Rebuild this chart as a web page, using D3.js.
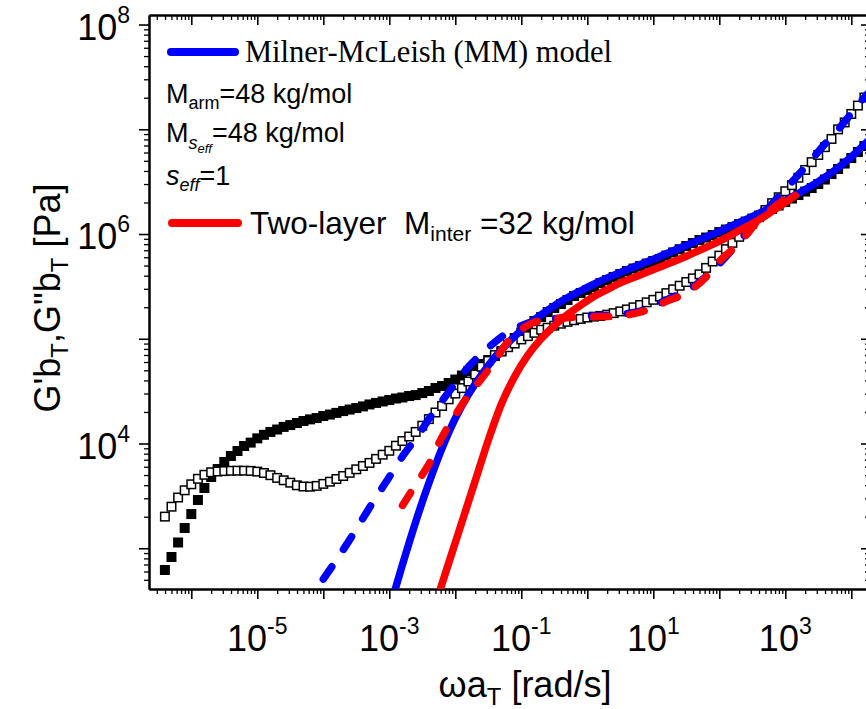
<!DOCTYPE html>
<html>
<head>
<meta charset="utf-8">
<script src="https://d3js.org/d3.v7.min.js"></script>
<style>
  body { margin: 0; background: #fff; }
  svg { display: block; }
  text { font-family: "Liberation Sans", Arial, sans-serif; fill: #000; white-space: pre; }
</style>
</head>
<body>
<div class="canvas"></div>
<script>
// measured data (filled = G', open = G''), same frequencies for both
const omegaData = [
  3.98e-7, 5.01e-7, 6.31e-7, 7.94e-7,
  1e-6, 1.26e-6, 1.58e-6, 2.0e-6, 2.51e-6, 3.16e-6, 3.98e-6, 5.01e-6, 6.31e-6, 7.94e-6,
  1e-5, 1.26e-5, 1.58e-5, 2.0e-5, 2.51e-5, 3.16e-5, 3.98e-5, 5.01e-5, 6.31e-5, 7.94e-5,
  1e-4, 1.26e-4, 1.58e-4, 2.0e-4, 2.51e-4, 3.16e-4, 3.98e-4, 5.01e-4, 6.31e-4, 7.94e-4,
  1e-3, 1.26e-3, 1.58e-3, 2.0e-3, 2.51e-3, 3.16e-3, 3.98e-3, 5.01e-3, 6.31e-3, 7.94e-3,
  0.01, 0.0126, 0.0158, 0.02, 0.0251, 0.0316, 0.0398, 0.0501, 0.0631, 0.0794,
  0.1, 0.126, 0.158, 0.2, 0.251, 0.316, 0.398, 0.501, 0.631, 0.794,
  1, 1.26, 1.58, 2.0, 2.51, 3.16, 3.98, 5.01, 6.31, 7.94,
  10, 12.6, 15.8, 20, 25.1, 31.6, 39.8, 50.1, 63.1, 79.4,
  100, 126, 158, 200, 251, 316, 398, 501, 631, 794,
  1000, 1260, 1580, 2000, 2510, 3160, 3980, 5010, 6310, 7940,
  10000, 12600, 15800
];
const gPrimeData = [
  620, 825, 1135, 1560, 2120, 2890, 3760, 4790, 5710, 6660,
  7600, 8480, 9470, 10200, 11200, 12100, 12900, 13600, 14400, 15000,
  15700, 16400, 17000, 17500, 18300, 18900, 19600, 20400, 21100, 21800,
  22600, 23600, 24400, 25200, 26000, 26900, 27500, 28400, 29000, 30300,
  31700, 33900, 35400, 37800, 40800, 44600, 49200, 53700, 57400, 62700,
  68400, 75500, 87100, 101600, 114700, 129500, 147700, 161300, 180000, 196600,
  214600, 234300, 255900, 273300, 292000, 311800, 340500, 363700, 388500, 415000,
  443300, 468400, 494900, 522800, 552400, 577200, 623200, 668000, 716000, 768000,
  820100, 876000, 925600, 977900, 1.044e6, 1.104e6, 1.166e6, 1.245e6, 1.316e6, 1.405e6,
  1.501e6, 1.621e6, 1.732e6, 1.870e6, 2.020e6, 2.182e6, 2.356e6, 2.544e6, 2.748e6, 3.001e6,
  3.313e6, 3.738e6, 4.173e6, 4.708e6, 5.313e6, 6.062e6, 6.916e6
];
const gDoublePrimeData = [
  2005, 2493, 3051, 3575, 4079, 4603, 5027, 5311, 5405, 5453,
  5489, 5502, 5502, 5478, 5393, 5229, 4983, 4695, 4454, 4225,
  3990, 3886, 3869, 3938, 4116, 4319, 4583, 4895, 5253, 5671,
  6098, 6528, 7129, 7819, 8518, 9528, 10560, 11660, 12900, 14790,
  17100, 19770, 22850, 26420, 29950, 33800, 39070, 45650, 54100, 61440,
  69810, 76210, 83040, 90070, 98560, 105960, 113930, 121990, 127470, 133200,
  139180, 145100, 150310, 154660, 159500, 162660, 165190, 169960, 175680, 182380,
  190580, 199560, 209990, 222770, 235340, 252550, 272760, 296430, 320850, 347990,
  377470, 412290, 474600, 546300, 621900, 717400, 823700, 940000, 1.084e6, 1.254e6,
  1.449e6, 1.694e6, 1.971e6, 2.244e6, 2.561e6, 2.929e6, 3.446e6, 4.091e6, 4.856e6, 5.686e6,
  6.751e6, 8.084e6, 9.98e6, 1.162e7, 1.401e7, 1.684e7, 2.009e7
];

// Milner-McLeish model
const omegaMMp = [1e-3, 1.585e-3, 2.512e-3, 3.981e-3, 6.31e-3, 0.01, 0.01585, 0.02512, 0.03981, 0.0631,
  0.1, 0.1585, 0.2512, 0.3981, 0.631, 1, 1.778, 3.162, 5.623, 10, 17.78, 31.62, 56.23, 100, 177.8,
  316.2, 562.3, 1000, 1778, 3162, 5623, 10000, 17780];
const mmGp = [261, 700, 1789, 4188, 9020, 17360, 29430, 45450, 66800, 91270,
  120400, 152950, 187300, 226700, 266800, 309100, 369300, 429900, 497000, 574700, 668700, 779600,
  909500, 1.061e6, 1.248e6, 1.468e6, 1.747e6, 2.101e6, 2.549e6, 3.170e6, 4.064e6, 5.455e6, 7.684e6];
const omegaMMpp = [1e-4, 1.585e-4, 2.512e-4, 3.981e-4, 6.31e-4, 1e-3, 1.585e-3, 2.512e-3, 3.981e-3,
  6.31e-3, 0.01, 0.01585, 0.02512, 0.03981, 0.0631, 0.1, 0.1585, 0.2512, 0.3981, 0.631, 1, 1.585,
  2.512, 3.981, 6.31, 10, 15.85, 25.12, 39.81, 63.1, 100, 158.5, 251.2, 398.1, 631, 1000, 1585,
  2512, 3981, 6310, 10000, 15850, 19950];
const mmGpp = [507.6, 775.9, 1207, 1928, 3072, 4788, 7548, 11110, 17060, 25560, 37550, 53990, 72300,
  92880, 115200, 133500, 147100, 153300, 157400, 162000, 164500, 166700, 169300, 173800, 184000,
  203500, 235300, 266800, 311800, 392800, 520500, 714200, 999500, 1.384e6, 1.946e6, 2.682e6,
  3.680e6, 5.140e6, 7.227e6, 9.895e6, 1.419e7, 2.026e7, 2.367e7];

// two-layer model
const omegaTLp = [5.012e-3, 7.943e-3, 0.01259, 0.01995, 0.03162, 0.05012, 0.07943, 0.1259, 0.1995,
  0.3162, 0.5012, 0.7943, 1.259, 1.995, 3.162, 5.012, 7.943, 12.59, 19.95, 31.62, 50.12, 79.43,
  125.9, 199.5, 316.2, 501.2, 794.3, 1000, 1413];
const tlGp = [293.8, 723.4, 1777, 4367, 10780, 23980, 43600, 69650, 99860, 133500, 170400, 209500,
  253700, 295100, 341300, 383400, 430800, 483900, 542700, 613700, 700200, 797000, 919600, 1.080e6,
  1.262e6, 1.494e6, 1.817e6, 1.998e6, 2.330e6];
const omegaTLpp = [1.585e-3, 2.512e-3, 3.981e-3, 6.31e-3, 0.01, 0.01585, 0.02512, 0.03981, 0.0631, 0.1,
  0.1585, 0.2512, 0.3981, 0.631, 1, 1.585, 2.512, 3.981, 6.31, 10, 15.85, 25.12, 39.81, 63.1, 100,
  158.5, 251.2, 398.1, 631, 1000, 1413];
const tlGpp = [2564, 4052, 6360, 11560, 18710, 28850, 41650, 62270, 94120, 122800, 143800, 151300,
  157800, 160200, 161600, 163000, 164100, 168500, 179200, 197900, 227700, 255300, 301700, 390200,
  548700, 715600, 964900, 1.378e6, 1.747e6, 2.167e6, 2.511e6];

// axis tick labels (powers of ten)
const xLabelExps = [-5, -3, -1, 1, 3];
const yLabelExps = [4, 6, 8];

let margin = { left: 149, right: -2, top: 15, bottom: 120 };
let chartDims = {
    width: 866 - margin.left - margin.right,
    height: 709 - margin.top - margin.bottom,
};
const blue = "#0000ff";
const red = "#ff0000";

const svg = d3
    .select(".canvas")
    .append("svg")
    .attr("width", 866)
    .attr("height", 709);

const chart = svg
    .append("g")
    .attr("transform", `translate(${margin.left},${margin.top})`);

chart.append("clipPath").attr("id", "plotclip")
    .append("rect").attr("width", chartDims.width).attr("height", chartDims.height);

const x = d3.scaleLog().domain([2.286e-7, 1.791e4]).range([0, chartDims.width]);
const y = d3.scaleLog().domain([408.3, 1.233e8]).range([chartDims.height, 0]);

// ticks
function decades(lo, hi) {
    let out = [];
    for (let e = lo; e <= hi; e++) out.push(Math.pow(10, e));
    return out;
}
function minors(scale, lo, hi) {
    let out = [];
    const [d0, d1] = scale.domain();
    for (let e = lo; e <= hi; e++)
        for (let k = 2; k <= 9; k++) {
            const v = k * Math.pow(10, e);
            if (v >= d0 && v <= d1) out.push(v);
        }
    return out;
}
const xMajor = decades(-6, 4), xMinor = minors(x, -7, 4);
const yMajor = decades(3, 8), yMinor = minors(y, 2, 8);

function styleAxis(g, w) {
    g.select(".domain").attr("stroke", "#000").attr("stroke-width", 2);
    g.selectAll(".tick line").attr("stroke", "#000").attr("stroke-width", w);
    g.selectAll(".tick text").remove();
}

const axes = [
    [d3.axisBottom(x), `translate(0,${chartDims.height})`, xMajor, xMinor, 10, 5],
    [d3.axisTop(x), null, xMajor, xMinor, -10, -5],
    [d3.axisLeft(y), null, yMajor, yMinor, 10, 5],
    [d3.axisRight(y), `translate(${chartDims.width},0)`, yMajor, yMinor, -7, -3],
];
axes.forEach(([ax, tr, maj, min, sMaj, sMin]) => {
    const g1 = chart.append("g").call(ax.tickValues(min).tickSize(sMin).tickSizeOuter(0).tickFormat(""));
    if (tr) g1.attr("transform", tr);
    styleAxis(g1, 1.3);
    const g2 = chart.append("g").call(ax.tickValues(maj).tickSize(sMaj).tickSizeOuter(0).tickFormat(""));
    if (tr) g2.attr("transform", tr);
    styleAxis(g2, 1.6);
});

// tick labels
xLabelExps.forEach((e) => {
    const t = chart.append("text")
        .attr("x", x(Math.pow(10, e)))
        .attr("y", chartDims.height + 62)
        .attr("text-anchor", "middle")
        .attr("font-size", 36);
    t.append("tspan").text("10");
    t.append("tspan").attr("dy", -17).attr("font-size", 23).text(String(e));
});
yLabelExps.forEach((e) => {
    const t = chart.append("text")
        .attr("x", 130 - margin.left)
        .attr("y", y(Math.pow(10, e)) + 15)
        .attr("text-anchor", "end")
        .attr("font-size", 36);
    t.append("tspan").text("10");
    t.append("tspan").attr("dy", -17).attr("font-size", 23).text(String(e));
});

// axis titles
const xt = svg.append("text")
    .attr("x", 525).attr("y", 697)
    .attr("text-anchor", "middle").attr("font-size", 36);
xt.append("tspan").text("ωa");
xt.append("tspan").attr("dy", 8).attr("font-size", 24).text("T");
xt.append("tspan").attr("dy", -8).text(" [rad/s]");

const yt = svg.append("text")
    .attr("transform", "translate(60,298) rotate(-90)")
    .attr("text-anchor", "middle").attr("font-size", 36);
yt.append("tspan").text("G'b");
yt.append("tspan").attr("dy", 8).attr("font-size", 24).text("T");
yt.append("tspan").attr("dy", -8).text(",G\"b");
yt.append("tspan").attr("dy", 8).attr("font-size", 24).text("T");
yt.append("tspan").attr("dy", -8).text(" [Pa]");

// data markers
const plot = chart.append("g").attr("clip-path", "url(#plotclip)");
const filled = omegaData.map((w, i) => ({ w, g: gPrimeData[i] }));
const open = omegaData.map((w, i) => ({ w, g: gDoublePrimeData[i] }));
const sq = 10;

plot.selectAll("rect.gp").data(filled).enter().append("rect")
    .attr("class", "gp")
    .attr("x", (d) => x(d.w) - sq / 2).attr("y", (d) => y(d.g) - sq / 2)
    .attr("width", sq).attr("height", sq).attr("fill", "#000");

plot.selectAll("rect.gpp").data(open).enter().append("rect")
    .attr("class", "gpp")
    .attr("x", (d) => x(d.w) - (sq - 1.5) / 2).attr("y", (d) => y(d.g) - (sq - 1.5) / 2)
    .attr("width", sq - 1.5).attr("height", sq - 1.5)
    .attr("fill", "#fff").attr("stroke", "#000").attr("stroke-width", 1.5);

// model curves
const lineGen = d3.line().x((d) => x(d[0])).y((d) => y(d[1])).curve(d3.curveMonotoneX);
function curve(ws, gs, color, dashed) {
    plot.append("path")
        .attr("d", lineGen(ws.map((w, i) => [w, gs[i]])))
        .attr("fill", "none")
        .attr("stroke", color)
        .attr("stroke-width", 7.5)
        .attr("stroke-linecap", "round")
        .attr("stroke-dasharray", dashed ? "15,21" : null);
}
curve(omegaMMpp, mmGpp, blue, true);
curve(omegaMMp, mmGp, blue, false);
curve(omegaTLpp, tlGpp, red, true);
curve(omegaTLp, tlGp, red, false);

// legend
const leg = svg.append("g");
leg.append("line").attr("x1", 171).attr("x2", 235).attr("y1", 52).attr("y2", 52)
    .attr("stroke", blue).attr("stroke-width", 8).attr("stroke-linecap", "round");
leg.append("text").attr("x", 245).attr("y", 62)
    .style("font-family", "'Liberation Serif', 'Times New Roman', serif")
    .attr("font-size", 30.5).text("Milner-McLeish (MM) model");

const t1 = leg.append("text").attr("x", 166).attr("y", 103).attr("font-size", 27);
t1.append("tspan").text("M");
t1.append("tspan").attr("dy", 6).attr("font-size", 18).text("arm");
t1.append("tspan").attr("dy", -6).text("=48 kg/mol");

const t2 = leg.append("text").attr("x", 166).attr("y", 142).attr("font-size", 27);
t2.append("tspan").text("M");
t2.append("tspan").attr("dy", 7).attr("font-size", 18).attr("font-style", "italic").text("s");
t2.append("tspan").attr("dy", 4).attr("font-size", 13).attr("font-style", "italic").text("eff");
t2.append("tspan").attr("dy", -11).text("=48 kg/mol");

const t3 = leg.append("text").attr("x", 166).attr("y", 185).attr("font-size", 27);
t3.append("tspan").attr("font-style", "italic").text("s");
t3.append("tspan").attr("dy", 6).attr("font-size", 18).attr("font-style", "italic").text("eff");
t3.append("tspan").attr("dy", -6).text("=1");

leg.append("line").attr("x1", 172).attr("x2", 238).attr("y1", 223).attr("y2", 223)
    .attr("stroke", red).attr("stroke-width", 8).attr("stroke-linecap", "round");
const t4 = leg.append("text").attr("x", 250).attr("y", 234).attr("font-size", 31.5);
t4.append("tspan").text("Two-layer  M");
t4.append("tspan").attr("dy", 7).attr("font-size", 21).text("inter");
t4.append("tspan").attr("dy", -7).text(" =32 kg/mol");
</script>
</body>
</html>
